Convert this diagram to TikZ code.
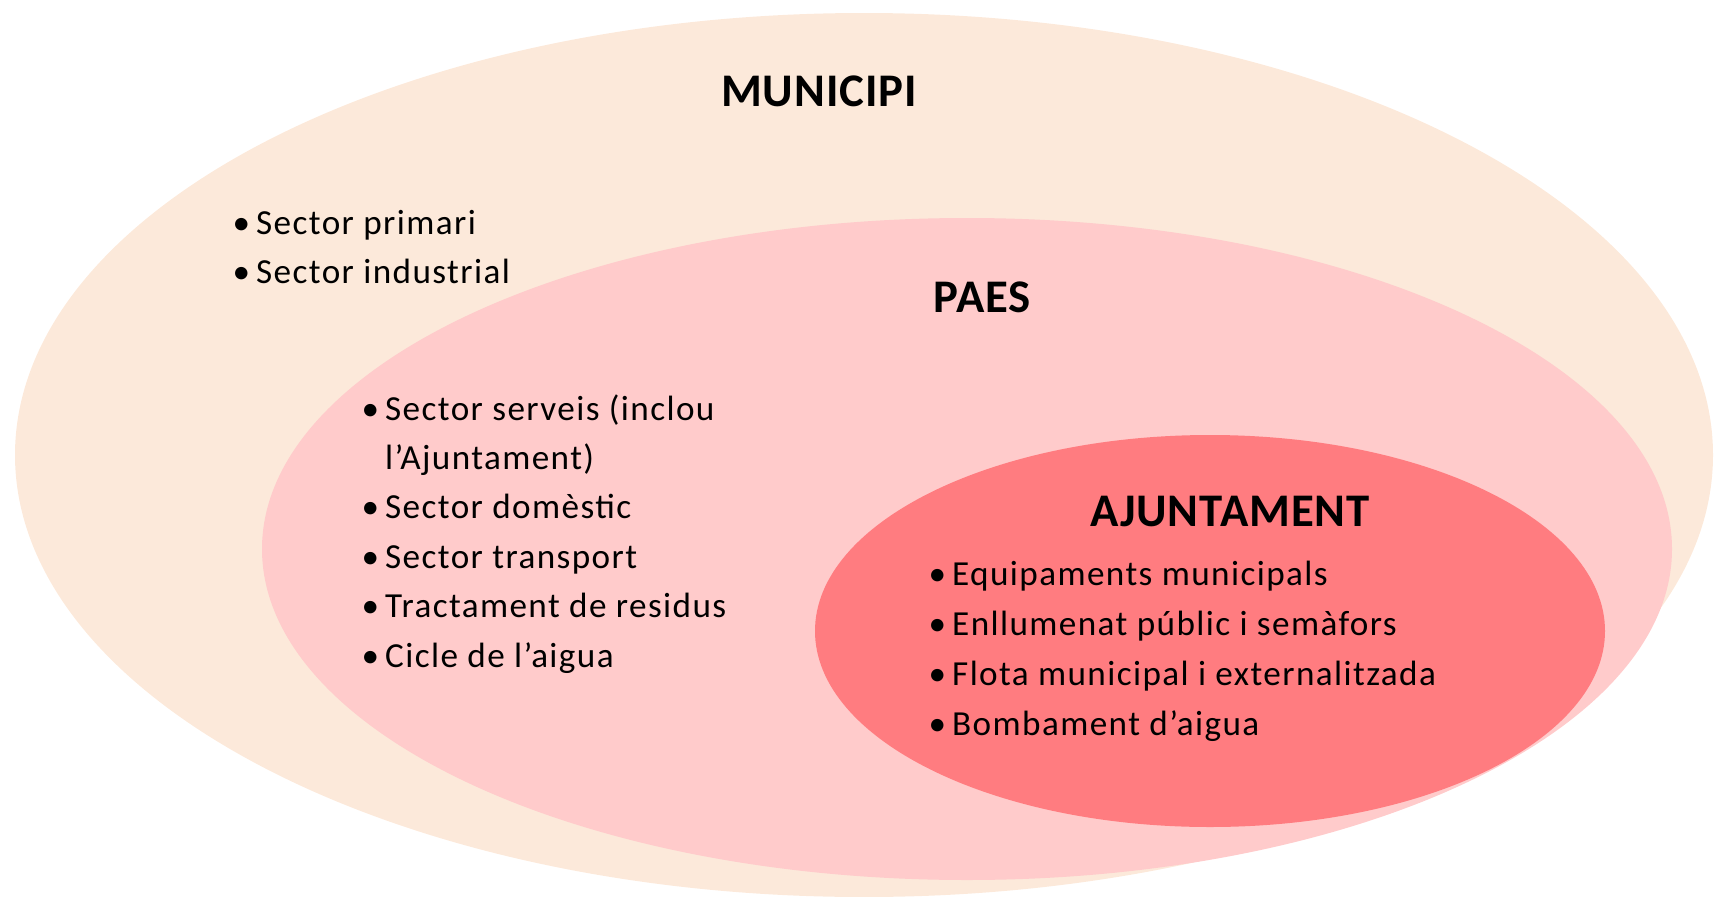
\documentclass[tikz,border=0pt]{standalone}
\usepackage{fontspec}
\setmainfont{Carlito}
\newfontfamily\itemfont[LetterSpace=4]{Carlito}
\newfontfamily\headfont[LetterSpace=2]{Carlito}
\definecolor{munfill}{HTML}{FCE9DA}
\definecolor{paesfill}{HTML}{FFCBCB}
\definecolor{ajfill}{HTML}{FF7C80}
\newcommand\itm{\makebox[0.235cm][l]{\textbullet}}
\newcommand\noitm{\hspace*{0.235cm}}
\tikzset{
  head/.style={font=\headfont\fontsize{13.3}{15}\selectfont\bfseries, inner sep=0pt, anchor=base},
  item/.style={font=\itemfont\fontsize{10}{12}\selectfont, inner sep=0pt, anchor=base west},
}
\begin{document}
\begin{tikzpicture}[x=0.01cm,y=-0.01cm]
  \useasboundingbox (0,0) rectangle (1715,897);
  % nested zones
  \fill[munfill] (864,455) ellipse [x radius=849, y radius=442];
  \fill[paesfill] (967,549) ellipse [x radius=705, y radius=331];
  \fill[ajfill] (1210,631) ellipse [x radius=395, y radius=196];
  % titles
  \node[head] (municipi) at (819,106) {MUNICIPI};
  \node[head] (paes) at (982,312) {PAES};
  \node[head] (ajuntament) at (1230,526) {AJUNTAMENT};
  % lists
  \foreach \txt [count=\i from 0] in {Sector primari, Sector industrial}
    \node[item] (mun\i) at (232,234+49*\i) {\itm\txt};
  \foreach \txt [count=\i from 0] in {{\itm Sector serveis (inclou}, {\noitm l’Ajuntament)},
      {\itm Sector domèstic}, {\itm Sector transport}, {\itm Tractament de residus},
      {\itm Cicle de l’aigua}}
    \node[item] (paes\i) at (361,420+49.4*\i) {\txt};
  \foreach \txt [count=\i from 0] in {Equipaments municipals, Enllumenat públic i semàfors,
      Flota municipal i externalitzada, Bombament d’aigua}
    \node[item] (ajt\i) at (928,585+50*\i) {\itm\txt};
\end{tikzpicture}
\end{document}
